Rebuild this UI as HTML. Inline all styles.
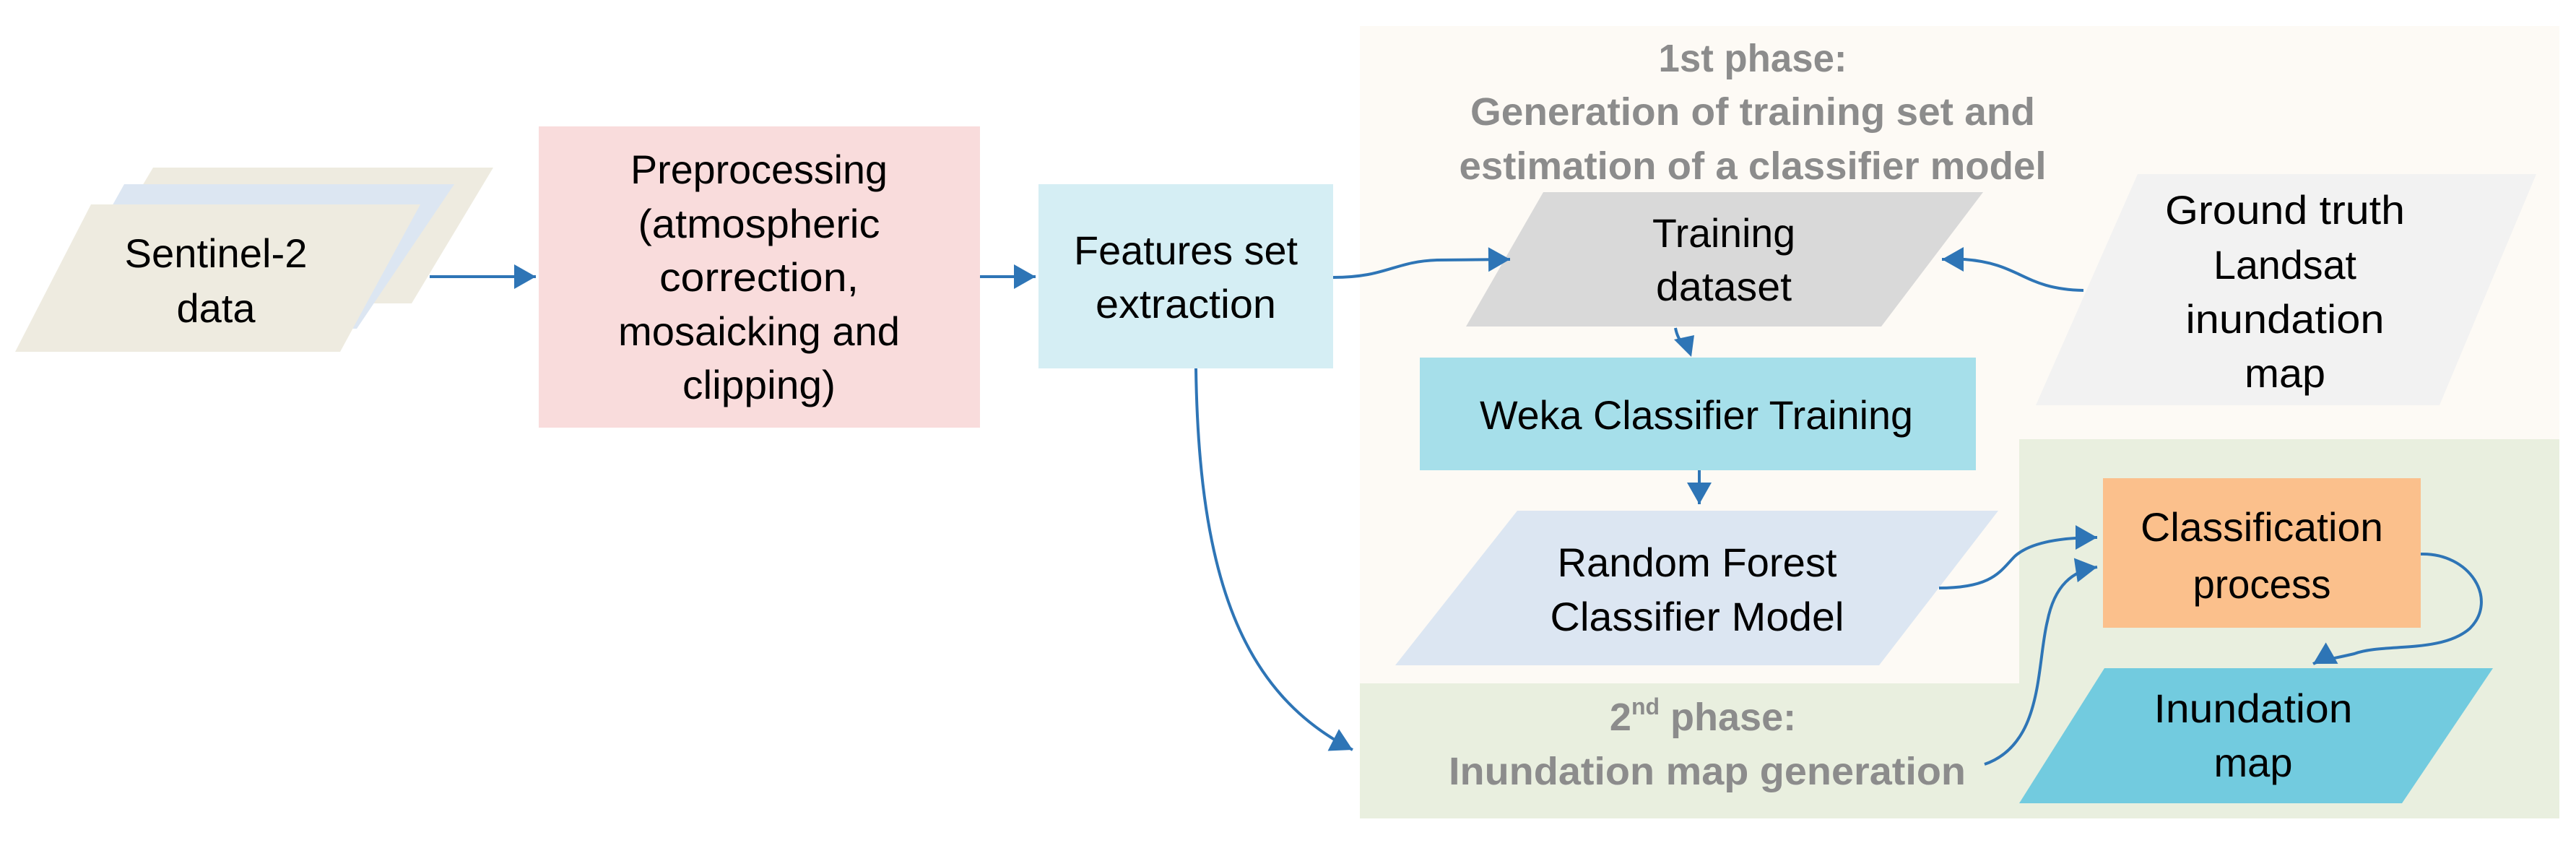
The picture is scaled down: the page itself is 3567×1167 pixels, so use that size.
<!DOCTYPE html>
<html><head><meta charset="utf-8"><style>html,body{margin:0;padding:0;background:#fff}svg{display:block}</style></head>
<body>
<svg width="3567" height="1167" viewBox="0 0 3567 1167" xmlns="http://www.w3.org/2000/svg" font-family="'Liberation Sans', sans-serif">
<defs>
<marker id="a" markerWidth="10" markerHeight="10" refX="8" refY="5" orient="auto" markerUnits="userSpaceOnUse" viewBox="0 0 10 10" style="overflow:visible">
<path d="M-22,-12 L8,5 L-22,22 Z" fill="#2e75b6"/>
</marker>
</defs>
<rect x="1883" y="36" width="1661" height="910" fill="#fdfaf5"/>
<path d="M1883,946 L2796,946 L2796,608 L3544,608 L3544,1133 L1883,1133 Z" fill="#e9efdf"/>
<polygon points="212,232 683,232 570,420 100,420" fill="#eeebe0"/>
<polygon points="172,255 629,255 494,455 60,455" fill="#dce6f2"/>
<polygon points="126,283 582,283 471,487 21,487" fill="#eeebe0"/>
<rect x="746" y="175" width="611" height="417" fill="#f9dcdc"/>
<rect x="1438" y="255" width="408" height="255" fill="#d5eef4"/>
<polygon points="2137,266 2746,266 2605,452 2030,452" fill="#d9d9d9"/>
<polygon points="2960,241 3512,241 3378,561 2819,561" fill="#f2f2f2"/>
<rect x="1966" y="495" width="770" height="156" fill="#a6dfea"/>
<polygon points="2101,707 2767,707 2602,921 1932,921" fill="#dce6f2"/>
<rect x="2912" y="662" width="440" height="207" fill="#fbc08c"/>
<polygon points="2914,925 3452,925 3326,1112 2796,1112" fill="#72cbdf"/>
<g stroke="#2e75b6" stroke-width="4" fill="none">
<path d="M595,383 L742,383" marker-end="url(#a)"/>
<path d="M1357,383 L1434,383" marker-end="url(#a)"/>
<path d="M1846,384 C1920,384 1930,362 1990,360 L2091,359" marker-end="url(#a)"/>
<path d="M2885,402 C2800,400 2800,365 2720,359 L2689,359" marker-end="url(#a)"/>
<path d="M2320,454 C2322,465 2326,472 2332,478"/>
<path d="M2353,651 L2353,698" marker-end="url(#a)"/>
<path d="M2685,814 C2760,814 2770,790 2790,770 C2810,752 2850,744 2904,744" marker-end="url(#a)"/>
<path d="M2748,1058 C2830,1030 2820,920 2835,860 C2845,810 2870,790 2904,785" marker-end="url(#a)"/>
<path d="M3352,767 C3420,765 3460,830 3420,870 C3380,905 3300,890 3260,905 C3230,912 3210,915 3203,919" marker-end="url(#a)"/>
<path d="M1656,510 C1660,800 1720,960 1873,1038" marker-end="url(#a)"/>
</g>
<polygon points="2318,470 2346,464 2342,494" fill="#2e75b6"/>
<g font-size="56" fill="#000" text-anchor="middle">
<text x="299" y="370" textLength="253" lengthAdjust="spacingAndGlyphs">Sentinel-2</text>
<text x="299" y="446" textLength="109" lengthAdjust="spacingAndGlyphs">data</text>
<text x="1051" y="254" textLength="356" lengthAdjust="spacingAndGlyphs">Preprocessing</text>
<text x="1051" y="329" textLength="335" lengthAdjust="spacingAndGlyphs">(atmospheric</text>
<text x="1051" y="403" textLength="276" lengthAdjust="spacingAndGlyphs">correction,</text>
<text x="1051" y="478" textLength="390" lengthAdjust="spacingAndGlyphs">mosaicking and</text>
<text x="1051" y="552" textLength="212" lengthAdjust="spacingAndGlyphs">clipping)</text>
<text x="1642" y="366" textLength="310" lengthAdjust="spacingAndGlyphs">Features set</text>
<text x="1642" y="440" textLength="250" lengthAdjust="spacingAndGlyphs">extraction</text>
<text x="2387" y="342" textLength="198" lengthAdjust="spacingAndGlyphs">Training</text>
<text x="2387" y="416" textLength="188" lengthAdjust="spacingAndGlyphs">dataset</text>
<text x="3164" y="310" textLength="332" lengthAdjust="spacingAndGlyphs">Ground truth</text>
<text x="3164" y="386" textLength="198" lengthAdjust="spacingAndGlyphs">Landsat</text>
<text x="3164" y="461" textLength="275" lengthAdjust="spacingAndGlyphs">inundation</text>
<text x="3164" y="536" textLength="112" lengthAdjust="spacingAndGlyphs">map</text>
<text x="2349" y="594" textLength="600" lengthAdjust="spacingAndGlyphs">Weka Classifier Training</text>
<text x="2350" y="798" textLength="387" lengthAdjust="spacingAndGlyphs">Random Forest</text>
<text x="2350" y="873" textLength="407" lengthAdjust="spacingAndGlyphs">Classifier Model</text>
<text x="3132" y="749" textLength="336" lengthAdjust="spacingAndGlyphs">Classification</text>
<text x="3132" y="828" textLength="191" lengthAdjust="spacingAndGlyphs">process</text>
<text x="3120" y="1000" textLength="275" lengthAdjust="spacingAndGlyphs">Inundation</text>
<text x="3120" y="1075" textLength="109" lengthAdjust="spacingAndGlyphs">map</text>
</g>
<g font-size="54" font-weight="bold" fill="#8c8c8c" text-anchor="middle">
<text x="2427" y="99" textLength="261" lengthAdjust="spacingAndGlyphs">1st phase:</text>
<text x="2427" y="173" textLength="782" lengthAdjust="spacingAndGlyphs">Generation of training set and</text>
<text x="2427" y="248" textLength="813" lengthAdjust="spacingAndGlyphs">estimation of a classifier model</text>
<text x="2358" y="1011">2<tspan font-size="32" dy="-22">nd</tspan><tspan dy="22"> phase:</tspan></text>
<text x="2364" y="1086" textLength="716" lengthAdjust="spacingAndGlyphs">Inundation  map generation</text>
</g>
</svg>
</body></html>
